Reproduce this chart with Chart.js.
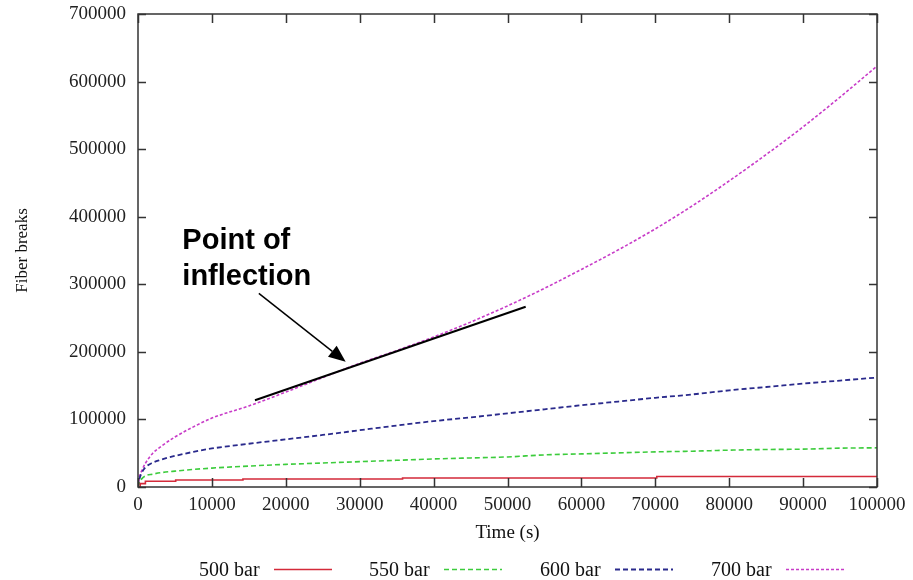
<!DOCTYPE html>
<html><head><meta charset="utf-8">
<script src="https://cdn.jsdelivr.net/npm/chart.js@4.4.1/dist/chart.umd.min.js"></script>
<style>
html,body{margin:0;padding:0;background:#fff;}
#wrap{position:relative;width:913px;height:580px;}
#legend .item{position:absolute;top:559px;font:20px 'Liberation Serif','Times New Roman',serif;color:#111;line-height:20px;white-space:nowrap;}
#legend svg{position:absolute;top:0;}
</style></head><body>
<div id="wrap"><canvas id="c"></canvas><div id="legend"></div></div>
<script>
// ---- data ----
const times = [0, 200, 500, 1000, 2000, 3000, 5000, 7500, 10000, 15000, 20000, 25000, 30000, 35000, 40000, 45000, 50000, 55000, 60000, 65000, 70000, 75000, 80000, 85000, 90000, 95000, 100000];
const bar700 = [0, 15000, 24000, 35000, 50000, 59000, 74000, 89000, 102000, 120000, 140500, 162000, 183000, 202000, 222000, 244000, 268000, 294000, 322000, 351000, 382000, 416000, 453000, 492000, 533000, 577000, 623000];
const bar600 = [0, 12000, 21000, 29000, 36000, 40000, 46000, 52000, 57000, 64000, 70500, 77000, 84000, 91000, 97500, 103000, 109000, 115000, 121000, 126500, 132000, 137000, 143000, 148000, 153000, 157500, 162000];
const bar550 = [0, 7000, 12000, 16500, 19000, 21000, 23500, 26000, 28000, 31000, 33500, 35500, 37500, 39500, 41500, 43000, 44500, 47500, 49000, 50500, 52000, 53000, 54500, 55500, 56000, 57500, 58000];
const bar500Times = [0, 300, 1000, 5100, 14200, 35800, 70200, 100000];
const bar500 = [0, 5000, 8400, 10400, 11900, 13300, 15500, 15500];
const seriesNames = ['500 bar', '550 bar', '600 bar', '700 bar'];
const xTicks = {min: 0, max: 100000, step: 10000};
const yTicks = {min: 0, max: 700000, step: 100000};
const annotationText = ['Point of', 'inflection'];
const annotationTextAnchor = {x: 6000, y: 352000};
const tangentLine = [{x: 15830, y: 128400}, {x: 52460, y: 266700}];
const arrowLine = [{x: 16350, y: 286500}, {x: 28100, y: 185200}];

// ---- styles ----
const styles = [
  {color: '#d42a3a', dash: [], width: 1.6},
  {color: '#3ccc3c', dash: [5, 3], width: 1.6},
  {color: '#2a2a8c', dash: [5, 3], width: 1.8},
  {color: '#c83cc8', dash: [3, 2], width: 1.6}
];

const pts = (xs, ys) => xs.map((t, i) => ({x: t, y: ys[i]}));
const seriesData = [pts(bar500Times, bar500), pts(times, bar550), pts(times, bar600), pts(times, bar700)];

const datasets = seriesData.map((d, i) => ({
  label: seriesNames[i],
  data: d,
  borderColor: styles[i].color,
  borderDash: styles[i].dash,
  borderWidth: styles[i].width,
  pointRadius: 0,
  fill: false,
  stepped: i === 0 ? true : false,
  cubicInterpolationMode: 'monotone'
}));

const framePlugin = {
  id: 'frame',
  afterDatasetsDraw(chart) {
    const {ctx, chartArea: a, scales: {x, y}} = chart;
    ctx.save();
    ctx.strokeStyle = '#333';
    ctx.lineWidth = 1.5;
    ctx.setLineDash([]);
    ctx.strokeRect(a.left, a.top, a.right - a.left, a.bottom - a.top);
    ctx.beginPath();
    x.ticks.forEach(t => {
      const px = Math.round(x.getPixelForValue(t.value)) + 0.5;
      ctx.moveTo(px, a.bottom); ctx.lineTo(px, a.bottom - 9);
      ctx.moveTo(px, a.top); ctx.lineTo(px, a.top + 9);
    });
    y.ticks.forEach(t => {
      const py = Math.round(y.getPixelForValue(t.value)) + 0.5;
      ctx.moveTo(a.left, py); ctx.lineTo(a.left + 8, py);
      ctx.moveTo(a.right, py); ctx.lineTo(a.right - 8, py);
    });
    ctx.stroke();

    // tangent line
    ctx.strokeStyle = '#000';
    ctx.lineWidth = 2;
    ctx.beginPath();
    ctx.moveTo(x.getPixelForValue(tangentLine[0].x), y.getPixelForValue(tangentLine[0].y));
    ctx.lineTo(x.getPixelForValue(tangentLine[1].x), y.getPixelForValue(tangentLine[1].y));
    ctx.stroke();

    // arrow
    const x1 = x.getPixelForValue(arrowLine[0].x), y1 = y.getPixelForValue(arrowLine[0].y);
    const x2 = x.getPixelForValue(arrowLine[1].x), y2 = y.getPixelForValue(arrowLine[1].y);
    const ang = Math.atan2(y2 - y1, x2 - x1);
    const hl = 17, hw = 7;
    const bx = x2 - hl * Math.cos(ang), by = y2 - hl * Math.sin(ang);
    ctx.lineWidth = 1.5;
    ctx.beginPath();
    ctx.moveTo(x1, y1); ctx.lineTo(bx, by);
    ctx.stroke();
    ctx.fillStyle = '#000';
    ctx.beginPath();
    ctx.moveTo(x2, y2);
    ctx.lineTo(bx + hw * Math.sin(ang), by - hw * Math.cos(ang));
    ctx.lineTo(bx - hw * Math.sin(ang), by + hw * Math.cos(ang));
    ctx.closePath();
    ctx.fill();

    // annotation text
    ctx.font = "bold 29px 'Liberation Sans', Arial, sans-serif";
    ctx.textAlign = 'left';
    ctx.textBaseline = 'alphabetic';
    const tx = x.getPixelForValue(annotationTextAnchor.x);
    const ty = y.getPixelForValue(annotationTextAnchor.y);
    annotationText.forEach((s, i) => ctx.fillText(s, tx, ty + i * 36));
    ctx.restore();
  }
};

const tickFont = {family: "'Liberation Serif', 'Times New Roman', serif", size: 19};

new Chart(document.getElementById('c'), {
  type: 'line',
  data: {datasets},
  options: {
    responsive: true,
    maintainAspectRatio: false,
    animation: false,
    layout: {padding: {left: 0, right: 36, top: 14, bottom: 0}},
    plugins: {legend: {display: false}, tooltip: {enabled: false}},
    scales: {
      x: {
        type: 'linear', min: xTicks.min, max: xTicks.max,
        ticks: {stepSize: xTicks.step, font: tickFont, color: '#222', padding: 7, maxRotation: 0, autoSkip: false,
          callback: v => String(v)},
        grid: {display: false, drawTicks: false},
        border: {display: false},
        title: {display: true, text: 'Time (s)', color: '#111',
          font: {family: "'Liberation Serif', 'Times New Roman', serif", size: 19},
          padding: {top: 0, bottom: 36}},
        afterFit: s => { s.height = 93; s.paddingLeft = 0; s.paddingRight = 0; }
      },
      y: {
        type: 'linear', min: yTicks.min, max: yTicks.max,
        ticks: {stepSize: yTicks.step, font: tickFont, color: '#222', padding: 12, autoSkip: false,
          callback: v => String(v)},
        grid: {display: false, drawTicks: false},
        border: {display: false},
        title: {display: true, text: 'Fiber breaks', color: '#111',
          font: {family: "'Liberation Serif', 'Times New Roman', serif", size: 17},
          padding: {top: 12, bottom: 0}},
        afterFit: s => { s.width = 138; s.paddingTop = 0; s.paddingBottom = 0; }
      }
    }
  },
  plugins: [framePlugin]
});

// ---- HTML legend ----
const legendX = [199, 369, 540, 711];
const legend = document.getElementById('legend');
seriesNames.forEach((name, i) => {
  const d = document.createElement('div');
  d.className = 'item';
  d.style.left = legendX[i] + 'px';
  const st = styles[i];
  d.innerHTML = '<span>' + name + '</span>' +
    '<svg width="60" height="20" style="left:75px"><line x1="0" y1="10.5" x2="58" y2="10.5" stroke="' + st.color +
    '" stroke-width="' + st.width + '" stroke-dasharray="' + (st.dash.length ? st.dash.join(',') : 'none') + '"/></svg>';
  legend.appendChild(d);
});
</script>
</body></html>
